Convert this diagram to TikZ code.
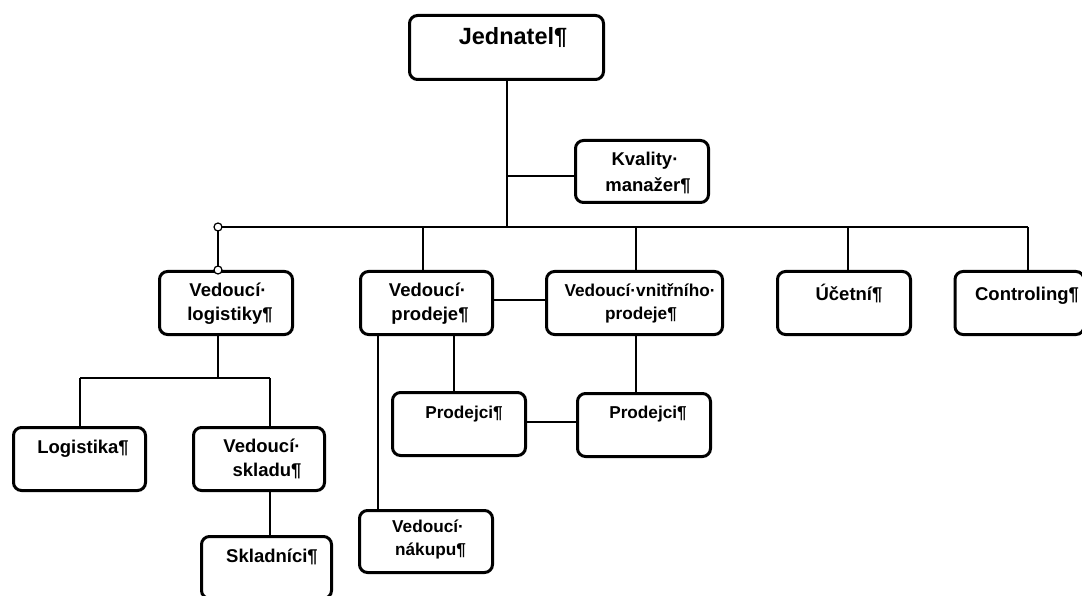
\documentclass[tikz,border=0pt]{standalone}
\usepackage{fontspec}
\setmainfont{Liberation Sans}
\begin{document}
\begin{tikzpicture}[x=1pt,y=-1pt,
  box/.style={draw=black, line width=3pt, rounded corners=8pt, fill=white,
              minimum width=133pt, minimum height=63pt, inner sep=0pt},
  conn/.style={draw=black, line width=2.2pt},
  txt/.style={font=\bfseries\fontsize{18.5}{22}\selectfont, inner sep=0pt, anchor=base},
  txtsmall/.style={font=\bfseries\fontsize{17.2}{20}\selectfont, inner sep=0pt, anchor=base},
  txtbig/.style={font=\bfseries\fontsize{23.5}{28}\selectfont, inner sep=0pt, anchor=base},
  joint/.style={circle, draw=black, fill=white, line width=1.2pt, minimum size=8pt, inner sep=0pt}]
\useasboundingbox (0,0) rectangle (1082,596);

% ---- connector routing points ----
\coordinate (kj)   at (507,176);
\coordinate (busL) at (218,227);
\coordinate (busR) at (1028,227);
\coordinate (d2)   at (423,227);
\coordinate (d3)   at (636,227);
\coordinate (d4)   at (848,227);
\coordinate (pv)   at (500,300);
\coordinate (lg)   at (218,378);
\coordinate (lgL)  at (80,378);
\coordinate (lgR)  at (270,378);
\coordinate (nk)   at (378,400);
\coordinate (pr)   at (454,360);
\coordinate (pp)   at (550,422);

% ---- boxes ----
\node[box, minimum width=194pt, minimum height=64pt] (jed)   at (506.5,47.5) {};
\node[box, minimum height=62pt]                      (kval)  at (642,171.5) {};
\node[box]                                           (vlog)  at (226,303) {};
\node[box, minimum width=132pt]                      (vprod) at (426.5,303) {};
\node[box, minimum width=176pt]                      (vvnit) at (634.5,303) {};
\node[box]                                           (uce)   at (844,303) {};
\node[box, minimum width=129pt]                      (ctrl)  at (1019.5,303) {};
\node[box, minimum width=132pt]                      (logi)  at (79.5,459) {};
\node[box, minimum width=131pt]                      (vskl)  at (259,459) {};
\node[box, minimum width=130pt, minimum height=62pt] (skl)   at (266.5,567.5) {};
\node[box]                                           (prod1) at (459,424) {};
\node[box]                                           (prod2) at (644,425) {};
\node[box, minimum height=62pt]                      (vnak)  at (426,541.5) {};

% ---- connectors ----
\draw[conn] (kj |- jed.south) -- (kj |- busL);
\draw[conn] (kj) -- (kj -| kval.west);
\draw[conn] (busL) -- (busR);
\draw[conn] (busL) -- (busL |- vlog.north);
\draw[conn] (d2) -- (d2 |- vprod.north);
\draw[conn] (d3) -- (d3 |- vvnit.north);
\draw[conn] (d4) -- (d4 |- uce.north);
\draw[conn] (busR) -- (busR |- ctrl.north);
\draw[conn] (pv -| vprod.east) -- (pv -| vvnit.west);
\draw[conn] (lg |- vlog.south) -- (lg);
\draw[conn] (lgL) -- (lgR);
\draw[conn] (lgL) -- (lgL |- logi.north);
\draw[conn] (lgR) -- (lgR |- vskl.north);
\draw[conn] (lgR |- vskl.south) -- (lgR |- skl.north);
\draw[conn] (nk |- vprod.south) -- (nk |- vnak.north);
\draw[conn] (pr |- vprod.south) -- (pr |- prod1.north);
\draw[conn] (d3 |- vvnit.south) -- (d3 |- prod2.north);
\draw[conn] (pp -| prod1.east) -- (pp -| prod2.west);

% ---- junction markers ----
\node[joint] (j1) at (busL) {};
\node[joint] (j2) at (busL |- vlog.north) {};

% ---- labels ----
\node[txtbig] (tjed) at (513,45) {Jednatel¶};
\node[txt] (tkv1) at (645,166) {Kvality·};
\node[txt] (tkv2) at (648,192) {manažer¶};
\node[txt] (tvl1) at (228,297) {Vedoucí·};
\node[txt] (tvl2) at (230,320) {logistiky¶};
\node[txt] (tvp1) at (427.5,297) {Vedoucí·};
\node[txt] (tvp2) at (430,320) {prodeje¶};
\node[txtsmall] (tvv1) at (640,296) {Vedoucí·vnitřního·};
\node[txtsmall] (tvv2) at (641,319) {prodeje¶};
\node[txt] (tuc)  at (849,300) {Účetní¶};
\node[txt] (tct)  at (1027,300) {Controling¶};
\node[txt] (tlo)  at (83,453) {Logistika¶};
\node[txt] (tvs1) at (262,452) {Vedoucí·};
\node[txt] (tvs2) at (267,476) {skladu¶};
\node[txt] (tsk)  at (272,562) {Skladníci¶};
\node[txtsmall] (tp1) at (464,418) {Prodejci¶};
\node[txtsmall] (tp2) at (648,418) {Prodejci¶};
\node[txtsmall] (tvn1) at (428,532) {Vedoucí·};
\node[txtsmall] (tvn2) at (430.5,555) {nákupu¶};
\end{tikzpicture}
\end{document}
